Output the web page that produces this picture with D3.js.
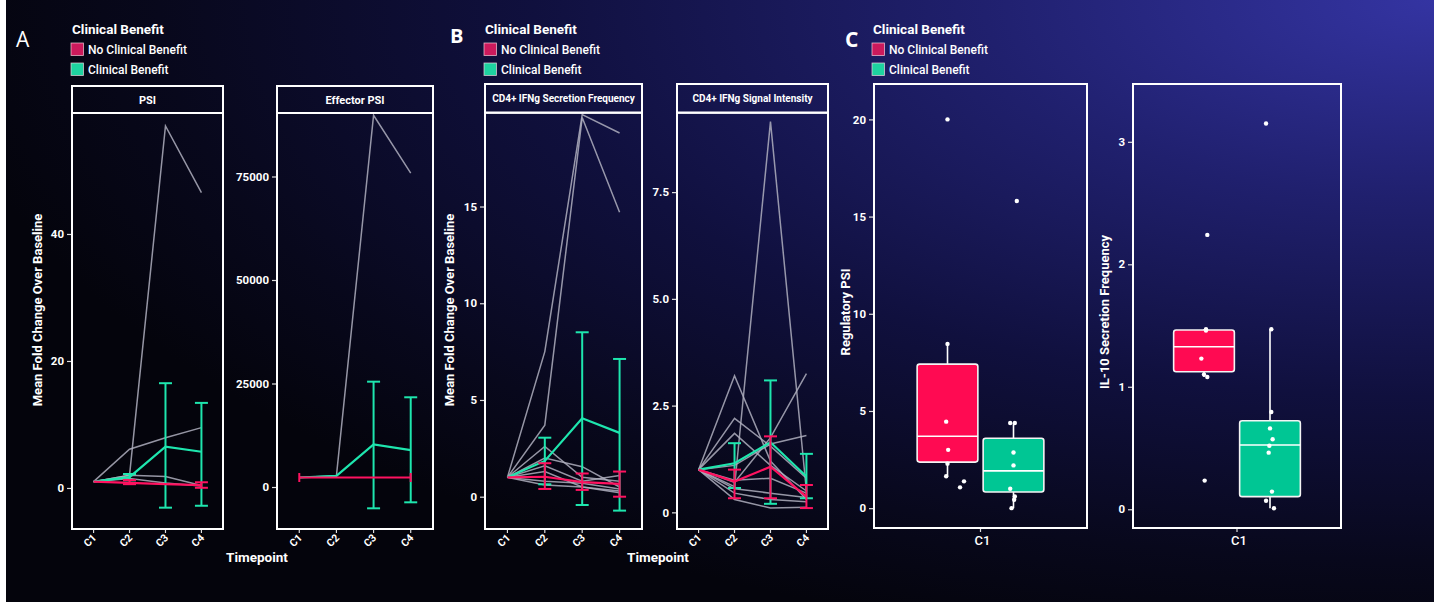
<!DOCTYPE html>
<html><head><meta charset="utf-8">
<script src="https://cdn.jsdelivr.net/npm/d3@7"></script>
<style>
html,body{margin:0;padding:0;background:#05050e;}
svg{display:block;}
text{font-family:Roboto,"Open Sans",sans-serif;fill:#fff;}
</style>
</head><body>
<svg id="chart" width="1434" height="602"></svg>
<script>
// ---------------- DATA ----------------
const timepoints = ["C1","C2","C3","C4"];
const groups = ["No Clinical Benefit","Clinical Benefit"];
const legendTitle = "Clinical Benefit";

// Panel A - PSI
const psiIndividual = [[1,2,57,46.5],[1,6.1,7.9,9.5],[1,2,1.8,0.4],[1,1.5,0.8,0.3]];
const psiBenefitMean = [1,1.7,6.5,5.7];
const psiBenefitLo   = [1,1.2,-3.1,-2.8];
const psiBenefitHi   = [1,2.2,16.5,13.4];
const psiNoMean = [1,0.8,0.6,0.45];
const psiNoLo   = [1,0.6,0.6,0.03];
const psiNoHi   = [1,1.25,0.6,0.9];
const psiTicks = [0,20,40];

// Panel A - Effector PSI
const effIndividual = [[2300,2700,89800,75800]];
const effBenefitMean = [2300,2700,10300,8900];
const effBenefitLo   = [2300,2700,-5150,-3700];
const effBenefitHi   = [2300,2700,25440,21670];
const effNoMean = [2300,2300,2300,2300];
const effNoLo   = [2300,2300,2300,2300];
const effNoHi   = [2300,2300,2300,2300];
const effTicks = [0,25000,50000,75000];

// Panel B - CD4+ IFNg Secretion Frequency
const sfIndividual = [[1,7.5,19.75,18.8],[1,3.7,19.6,14.7],[1,2.6,1.0,0.8],[1,2.0,1.55,0.5],
  [1,1.6,0.8,1.1],[1,1.3,0.5,0.3],[1,0.6,0.5,0.2],[1,0.8,0.7,0.4]];
const sfBenefitMean = [1,1.85,4.05,3.3];
const sfBenefitLo   = [1,0.64,-0.43,-0.72];
const sfBenefitHi   = [1,3.05,8.5,7.12];
const sfNoMean = [1,1.03,0.75,0.66];
const sfNoLo   = [1,0.4,0.35,0.0];
const sfNoHi   = [1,1.73,1.2,1.3];
const sfTicks = [0,5,10,15];

// Panel B - CD4+ IFNg Signal Intensity
const siIndividual = [[1,0.6,9.15,0.5],[1,3.2,1.2,0.3],[1,2.2,1.55,0.8],[1,1.85,1.1,0.5],
  [1,1.1,1.6,1.8],[1,0.7,1.75,3.25],[1,0.45,0.3,0.25],[1,0.3,0.1,0.12],[1,0.55,0.45,0.35],[1,0.75,0.8,0.45]];
const siBenefitMean = [1,1.15,1.64,0.84];
const siBenefitLo   = [1,0.57,0.2,0.33];
const siBenefitHi   = [1,1.62,3.09,1.37];
const siNoMean = [1,0.72,1.07,0.37];
const siNoLo   = [1,0.33,0.33,0.1];
const siNoHi   = [1,1.0,1.78,0.64];
const siTicks = [0,2.5,5,7.5];

// Panel C - boxplots [whiskerLo, q1, median, q3, whiskerHi]
const boxCategory = ["C1"];
const regBoxNo  = [1.64,2.37,3.70,7.41,8.45];
const regBoxYes = [0,0.83,1.92,3.6,4.38];
const regPtsNo  = [20,8.45,4.45,3.0,2.29,1.64,1.38,1.07];
const regJitNo  = [0,0,-0.02,0.01,0,-0.02,0.25,0.19];
const regPtsYes = [15.8,4.38,4.38,2.86,2.2,1.0,0.6,0.43,0.0];
const regJitYes = [0.05,-0.05,0.02,0,0,-0.05,0.02,0.01,-0.03];
const regTicks = [0,5,10,15,20];

const ilBoxNo  = [1.08,1.123,1.327,1.464,1.47];
const ilBoxYes = [0.008,0.103,0.525,0.723,1.47];
const ilPtsNo  = [2.24,0.234,1.47,1.46,1.23,1.10,1.08];
const ilJitNo  = [0.05,0.01,0.03,0.03,-0.04,0,0.05];
const ilPtsYes = [3.15,1.47,0.794,0.66,0.571,0.519,0.462,0.144,0.07,0.008];
const ilJitYes = [-0.06,0.02,0.02,0,0.04,-0.01,-0.02,0.03,-0.06,0.06];
const ilTicks = [0,1,2,3];

// ---------------- STYLE ----------------
const PINK = "#ff1260", GREEN = "#1ee6ae", GRAY = "rgba(175,175,190,0.85)";
const BOX_PINK = "#ff0a52", BOX_GREEN = "#00c694";
const SW_PINK = "#cc1a5c", SW_GREEN = "#1ed3a0";

const svg = d3.select("#chart");
const W = 1434, H = 602;

// background gradient
const defs = svg.append("defs");
const rg = defs.append("radialGradient").attr("id","bg")
  .attr("gradientUnits","userSpaceOnUse").attr("cx",1434).attr("cy",0).attr("r",1500)
  .attr("gradientTransform","translate(1434,0) scale(1,0.44) translate(-1434,0)");
rg.append("stop").attr("offset",0).attr("stop-color","#3434a2");
rg.append("stop").attr("offset",0.3).attr("stop-color","#20206e");
rg.append("stop").attr("offset",0.6).attr("stop-color","#10103e");
rg.append("stop").attr("offset",0.85).attr("stop-color","#08081c");
rg.append("stop").attr("offset",1).attr("stop-color","#04040c");
svg.append("rect").attr("width",W).attr("height",H).attr("fill","url(#bg)");
svg.append("rect").attr("x",0).attr("y",0).attr("width",6).attr("height",H).attr("fill","#ffffff");

// panel letters
svg.append("text").attr("x",16).attr("y",47).style("font-family","'Open Sans',sans-serif")
  .style("font-size","21px").text("A");
svg.append("text").attr("x",450).attr("y",43).style("font-family","'Open Sans',sans-serif")
  .style("font-size","20px").style("font-weight","bold").text("B");
svg.append("text").attr("x",845).attr("y",47).style("font-family","'Open Sans',sans-serif")
  .style("font-size","21px").style("font-weight","bold").text("C");

function legend(x, y) {
  const g = svg.append("g").attr("transform",`translate(${x},${y})`);
  g.append("text").attr("x",1).attr("y",0).style("font-size","13.5px").style("font-weight","bold").text(legendTitle);
  const sw = [SW_PINK, SW_GREEN];
  groups.forEach((gr,i)=>{
    g.append("rect").attr("x",0).attr("y",9+i*20).attr("width",12.5).attr("height",12.5)
      .attr("fill",sw[i]).attr("stroke","rgba(255,220,230,0.8)").attr("stroke-width",0.8);
    g.append("text").attr("x",17).attr("y",20+i*20).style("font-size","12px").style("font-weight","500").text(gr);
  });
}
legend(71, 34);
legend(484, 34);
legend(872, 34);

function yAxis(g, y, xPos, ticks, fmt) {
  const ax = g.append("g").attr("transform",`translate(${xPos},0)`)
    .call(d3.axisLeft(y).tickValues(ticks).tickSize(4).tickPadding(3).tickFormat(fmt));
  ax.select(".domain").remove();
  ax.selectAll(".tick line").attr("stroke","#ddd").attr("stroke-width",1.2);
  ax.selectAll(".tick text").style("font-size","11.5px").style("font-weight","bold")
    .style("font-family","Roboto,sans-serif").attr("fill","#fff");
}

function lineFacet(cfg) {
  const g = svg.append("g");
  const plotTop = cfg.top + cfg.strip;
  const x = d3.scalePoint().domain(timepoints).range([cfg.x0, cfg.x1]).padding(0.6);
  const y = d3.scaleLinear().domain(cfg.yDomain).range([cfg.bottom, plotTop]);
  const clipId = "clip"+Math.round(cfg.x0);
  defs.append("clipPath").attr("id",clipId).append("rect")
    .attr("x",cfg.x0).attr("y",plotTop).attr("width",cfg.x1-cfg.x0).attr("height",cfg.bottom-plotTop);
  const pg = g.append("g").attr("clip-path",`url(#${clipId})`);
  const line = d3.line().x((d,i)=>x(timepoints[i])).y(d=>y(d));
  cfg.indiv.forEach(s=>{
    pg.append("path").attr("d",line(s)).attr("fill","none").attr("stroke",GRAY).attr("stroke-width",1.5);
  });
  const series = [
    {m:cfg.gM, lo:cfg.gL, hi:cfg.gH, c:GREEN},
    {m:cfg.pM, lo:cfg.pL, hi:cfg.pH, c:PINK}
  ];
  const cap = 6.5;
  series.forEach(s=>{
    pg.append("path").attr("d",line(s.m)).attr("fill","none").attr("stroke",s.c).attr("stroke-width",2.2);
    s.m.forEach((v,i)=>{
      if (s.lo[i]===s.hi[i]) return;
      const xx = x(timepoints[i]);
      pg.append("line").attr("x1",xx).attr("x2",xx).attr("y1",y(s.lo[i])).attr("y2",y(s.hi[i]))
        .attr("stroke",s.c).attr("stroke-width",2);
      [s.lo[i], s.hi[i]].forEach(v2=>{
        pg.append("line").attr("x1",xx-cap).attr("x2",xx+cap).attr("y1",y(v2)).attr("y2",y(v2))
          .attr("stroke",s.c).attr("stroke-width",2);
      });
    });
  });
  if (cfg.endTicks) {
    [0, timepoints.length-1].forEach(i=>{
      const xx = x(timepoints[i]), yy = y(cfg.pM[i]);
      pg.append("line").attr("x1",xx).attr("x2",xx).attr("y1",yy-4.5).attr("y2",yy+4.5)
        .attr("stroke",PINK).attr("stroke-width",2);
    });
  }
  // boxes
  g.append("rect").attr("x",cfg.x0).attr("y",cfg.top).attr("width",cfg.x1-cfg.x0).attr("height",cfg.strip)
    .attr("fill","none").attr("stroke","#fff").attr("stroke-width",2);
  g.append("rect").attr("x",cfg.x0).attr("y",plotTop).attr("width",cfg.x1-cfg.x0).attr("height",cfg.bottom-plotTop)
    .attr("fill","none").attr("stroke","#fff").attr("stroke-width",2);
  g.append("text").attr("x",(cfg.x0+cfg.x1)/2).attr("y",cfg.top+cfg.strip/2+4).attr("text-anchor","middle")
    .style("font-size",cfg.stripFont||"11px").style("font-weight","bold").text(cfg.title);
  yAxis(g, y, cfg.x0-1, cfg.ticks, cfg.fmt);
  // x tick labels
  timepoints.forEach(t=>{
    const xx = x(t);
    g.append("line").attr("x1",xx).attr("x2",xx).attr("y1",cfg.bottom+1).attr("y2",cfg.bottom+4)
      .attr("stroke","#ddd").attr("stroke-width",1.2);
    g.append("text").attr("transform",`translate(${xx-1},${cfg.bottom+14}) rotate(-45)`)
      .attr("text-anchor","middle").style("font-size","10.5px").style("font-weight","bold").text(t);
  });
}

const fmtInt = d3.format("d");
const fmtSI = v => v===0 ? "0" : d3.format(".1f")(v);

lineFacet({x0:72, x1:223, top:86, strip:27, bottom:529, title:"PSI", yDomain:[-6.46,59.05],
  ticks:psiTicks, fmt:fmtInt, indiv:psiIndividual,
  gM:psiBenefitMean, gL:psiBenefitLo, gH:psiBenefitHi, pM:psiNoMean, pL:psiNoLo, pH:psiNoHi});
lineFacet({x0:277, x1:433, top:86, strip:27, bottom:529, title:"Effector PSI", yDomain:[-10145,90338],
  ticks:effTicks, fmt:fmtInt, indiv:effIndividual, endTicks:true,
  gM:effBenefitMean, gL:effBenefitLo, gH:effBenefitHi, pM:effNoMean, pL:effNoLo, pH:effNoHi});
lineFacet({x0:485, x1:642, top:84, strip:28.7, bottom:529, title:"CD4+ IFNg Secretion Frequency", stripFont:"10px",
  yDomain:[-1.67,19.85], ticks:sfTicks, fmt:fmtInt, indiv:sfIndividual,
  gM:sfBenefitMean, gL:sfBenefitLo, gH:sfBenefitHi, pM:sfNoMean, pL:sfNoLo, pH:sfNoHi});
lineFacet({x0:677, x1:828, top:84, strip:28.7, bottom:529, title:"CD4+ IFNg Signal Intensity", stripFont:"10px",
  yDomain:[-0.39,9.36], ticks:siTicks, fmt:fmtSI, indiv:siIndividual,
  gM:siBenefitMean, gL:siBenefitLo, gH:siBenefitHi, pM:siNoMean, pL:siNoLo, pH:siNoHi});

// axis titles
function yTitle(x, y, txt) {
  svg.append("text").attr("transform",`translate(${x},${y}) rotate(-90)`).attr("text-anchor","middle")
    .style("font-size","13px").style("font-weight","bold").text(txt);
}
yTitle(42, 310, "Mean Fold Change Over Baseline");
yTitle(454, 310, "Mean Fold Change Over Baseline");
svg.append("text").attr("x",257).attr("y",562).attr("text-anchor","middle")
  .style("font-size","13.5px").style("font-weight","bold").text("Timepoint");
svg.append("text").attr("x",658).attr("y",562).attr("text-anchor","middle")
  .style("font-size","13.5px").style("font-weight","bold").text("Timepoint");

// boxplot facets
function boxFacet(cfg) {
  const g = svg.append("g");
  const xc = d3.scalePoint().domain(boxCategory).range([cfg.x0, cfg.x1]).padding(0.5);
  const cx = xc("C1");
  const xg = d3.scaleBand().domain(groups).range([cx-66, cx+66]).paddingInner(0);
  const y = d3.scaleLinear().domain(cfg.yDomain).range([cfg.bottom, cfg.top]);
  const bw = xg.bandwidth()*0.92;
  const boxes = [{b:cfg.boxNo, c:BOX_PINK, p:cfg.ptsNo, j:cfg.jitNo, gr:groups[0]},
                 {b:cfg.boxYes, c:BOX_GREEN, p:cfg.ptsYes, j:cfg.jitYes, gr:groups[1]}];
  boxes.forEach(B=>{
    const mx = xg(B.gr)+xg.bandwidth()/2;
    const [wl,q1,md,q3,wh] = B.b;
    g.append("line").attr("x1",mx).attr("x2",mx).attr("y1",y(q3)).attr("y2",y(wh)).attr("stroke","#fff").attr("stroke-width",1.6);
    g.append("line").attr("x1",mx).attr("x2",mx).attr("y1",y(q1)).attr("y2",y(wl)).attr("stroke","#fff").attr("stroke-width",1.6);
    g.append("rect").attr("x",mx-bw/2).attr("y",y(q3)).attr("width",bw).attr("height",y(q1)-y(q3))
      .attr("rx",2.5).attr("fill",B.c).attr("stroke","#f4f4f4").attr("stroke-width",1.6);
    g.append("line").attr("x1",mx-bw/2).attr("x2",mx+bw/2).attr("y1",y(md)).attr("y2",y(md))
      .attr("stroke","#fff").attr("stroke-width",1.6);
    B.p.forEach((v,i)=>{
      g.append("circle").attr("cx",mx+B.j[i]*xg.bandwidth()).attr("cy",y(v)).attr("r",2.2).attr("fill","#fff");
    });
  });
  g.append("rect").attr("x",cfg.x0).attr("y",cfg.top).attr("width",cfg.x1-cfg.x0).attr("height",cfg.bottom-cfg.top)
    .attr("fill","none").attr("stroke","#fff").attr("stroke-width",2);
  yAxis(g, y, cfg.x0-1, cfg.ticks, fmtInt);
  g.append("line").attr("x1",cx).attr("x2",cx).attr("y1",cfg.bottom+1).attr("y2",cfg.bottom+4)
    .attr("stroke","#ddd").attr("stroke-width",1.2);
  g.append("text").attr("x",cx+2).attr("y",cfg.bottom+17).attr("text-anchor","middle")
    .style("font-size","13px").style("font-weight","500").text("C1");
  yTitle(cfg.titleX, 312, cfg.title);
}
boxFacet({x0:874, x1:1087, top:84, bottom:528, yDomain:[-1.02,21.82], ticks:regTicks,
  boxNo:regBoxNo, boxYes:regBoxYes, ptsNo:regPtsNo, jitNo:regJitNo, ptsYes:regPtsYes, jitYes:regJitYes,
  title:"Regulatory PSI", titleX:850});
boxFacet({x0:1133, x1:1341, top:84, bottom:528, yDomain:[-0.153,3.472], ticks:ilTicks,
  boxNo:ilBoxNo, boxYes:ilBoxYes, ptsNo:ilPtsNo, jitNo:ilJitNo, ptsYes:ilPtsYes, jitYes:ilJitYes,
  title:"IL-10 Secretion Frequency", titleX:1109});
</script>
</body></html>
